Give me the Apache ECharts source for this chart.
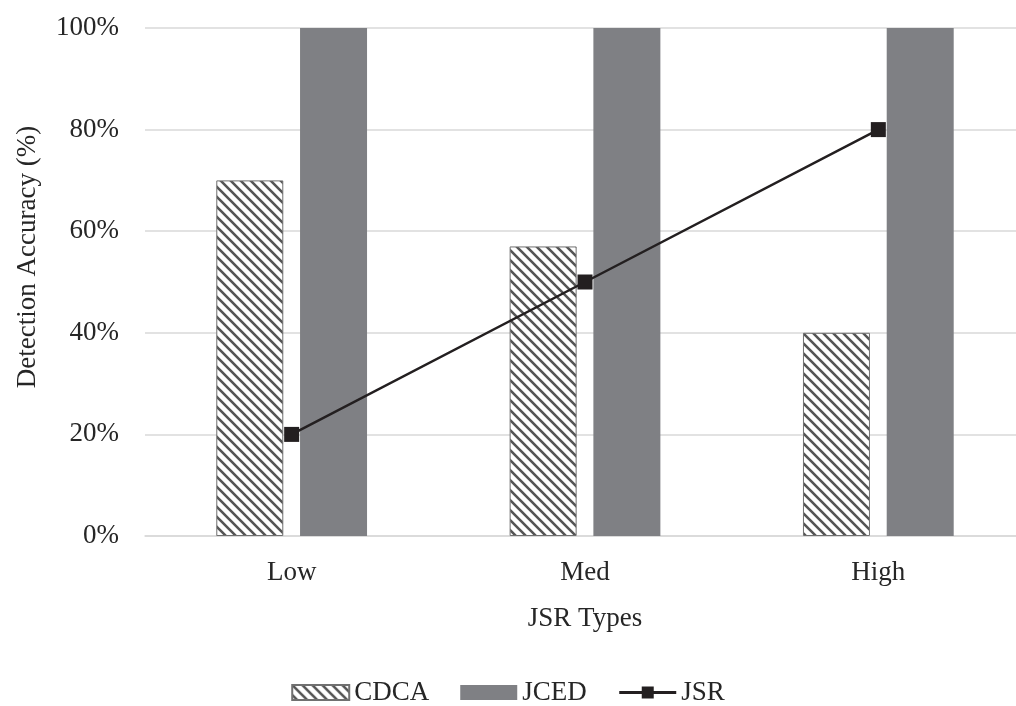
<!DOCTYPE html>
<html>
<head>
<meta charset="utf-8">
<script src="https://cdn.jsdelivr.net/npm/echarts@6/dist/echarts.min.js"></script>
<style>
  html, body { margin: 0; padding: 0; background: #ffffff; }
  #chart { width: 1016px; height: 706px; }
</style>
</head>
<body>
<div id="chart"></div>
<script>
// Detection accuracy per JSR type
const categories = ['Low', 'Med', 'High'];
const cdcaValues = [0.70, 0.57, 0.40];
const jcedValues = [1.00, 1.00, 1.00];
const jsrValues = [0.20, 0.50, 0.80];
const yTicks = { min: 0, max: 1, interval: 0.2 };

const FONT = '"Liberation Serif", "Times New Roman", serif';
const TEXT = '#262626';

// diagonal hatch tile (lines running top-left to bottom-right)
function hatchTile() {
  const s = 10;
  const c = document.createElement('canvas');
  c.width = s; c.height = s;
  const g = c.getContext('2d');
  g.fillStyle = '#ffffff';
  g.fillRect(0, 0, s, s);
  g.strokeStyle = '#555555';
  g.lineWidth = 2.6;
  g.beginPath();
  g.moveTo(-2, -2); g.lineTo(s + 2, s + 2);
  g.moveTo(-2, s - 2); g.lineTo(2, s + 2);
  g.moveTo(s - 2, -2); g.lineTo(s + 2, 2);
  g.stroke();
  return c;
}
const hatch = { image: hatchTile(), repeat: 'repeat' };

const chart = echarts.init(document.getElementById('chart'), null, { renderer: 'canvas' });
chart.setOption({
  backgroundColor: '#ffffff',
  animation: false,
  textStyle: { fontFamily: FONT, color: TEXT },
  grid: {
    left: 145, top: 28, width: 880, bottom: 170,
    containLabel: false, outerBoundsMode: 'none'
  },
  legend: {
    top: 674,
    left: 'center',
    itemWidth: 57,
    itemHeight: 15,
    itemGap: 31,
    textStyle: { fontFamily: FONT, fontSize: 27, color: TEXT },
    data: [
      { name: 'CDCA', icon: 'rect' },
      { name: 'JCED', icon: 'rect' },
      { name: 'JSR', lineStyle: { width: 3 } }
    ]
  },
  xAxis: {
    type: 'category',
    data: categories,
    axisLine: { lineStyle: { color: '#d9d9d9', width: 1.5 } },
    axisTick: { show: false },
    axisLabel: { fontFamily: FONT, fontSize: 27, color: TEXT, margin: 23 },
    name: 'JSR Types',
    nameLocation: 'middle',
    nameGap: 69,
    nameTextStyle: { fontFamily: FONT, fontSize: 27, color: TEXT }
  },
  yAxis: {
    type: 'value',
    min: yTicks.min,
    max: yTicks.max,
    interval: yTicks.interval,
    axisLine: { show: false },
    axisTick: { show: false },
    splitLine: { lineStyle: { color: '#d9d9d9', width: 1.5 } },
    axisLabel: {
      fontFamily: FONT, fontSize: 27, color: TEXT, margin: 26,
      formatter: v => Math.round(v * 100) + '%'
    },
    name: 'Detection Accuracy (%)',
    nameLocation: 'middle',
    nameGap: 104,
    nameRotate: 90,
    nameTextStyle: { fontFamily: FONT, fontSize: 27, color: TEXT, padding: [0, 0, 0, 50] }
  },
  series: [
    {
      name: 'CDCA',
      type: 'bar',
      data: cdcaValues,
      barWidth: 67,
      barGap: '25%',
      itemStyle: { color: hatch, borderColor: '#707070', borderWidth: 1 }
    },
    {
      name: 'JCED',
      type: 'bar',
      data: jcedValues,
      barWidth: 67,
      barGap: '25%',
      itemStyle: { color: '#7f8084' }
    },
    {
      name: 'JSR',
      type: 'line',
      data: jsrValues,
      symbol: 'rect',
      symbolSize: 15,
      z: 5,
      lineStyle: { color: '#231f20', width: 2.5 },
      itemStyle: { color: '#231f20' }
    }
  ]
});
</script>
</body>
</html>
